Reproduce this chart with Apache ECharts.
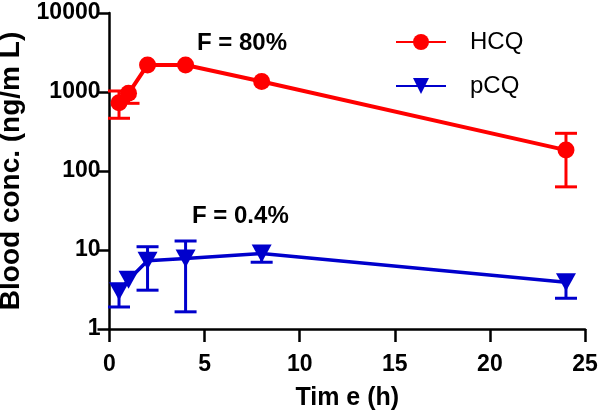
<!DOCTYPE html>
<html>
<head>
<meta charset="utf-8">
<script src="https://cdn.jsdelivr.net/npm/echarts@6/dist/echarts.min.js"></script>
<style>html,body{margin:0;padding:0;background:#fff}#c{width:600px;height:411px}</style>
</head>
<body>
<div id="c"></div>
<script>
const times = [0.5, 1, 2, 4, 8, 24];
const hcqMean = [732, 963, 2200, 2200, 1360, 184];
const hcqLow  = [465, 719, 2200, 2200, 1360, 63];
const hcqHigh = [1030, 963, 2200, 2200, 1360, 300];
const pcqMean = [3.0, 4.2, 7.3, 7.8, 9.0, 3.9];
const pcqLow  = [1.9, 4.2, 3.1, 1.65, 7.0, 2.45];
const pcqHigh = [3.0, 4.2, 11, 13, 9.0, 3.9];
const xTicks = [0, 5, 10, 15, 20, 25];
const yTicks = [1, 10, 100, 1000, 10000];
const annotations = [
  {text: 'F = 80%', left: 197, top: 31},
  {text: 'F = 0.4%', left: 192, top: 204}
];

const FONT = 'Liberation Sans, Arial, sans-serif';
const RED = '#FF0000', BLUE = '#0000CC';

function errRender(color) {
  return function (params, api) {
    const x = api.value(0), lo = api.value(1), hi = api.value(2);
    const mean = api.value(3);
    const m = api.coord([x, mean]);
    const half = 11;
    const st = {stroke: color, lineWidth: 3};
    const kids = [];
    [lo, hi].forEach(v => {
      if (v === mean) return;
      const p = api.coord([x, v]);
      kids.push({type: 'line', shape: {x1: m[0], y1: m[1], x2: p[0], y2: p[1]}, style: st});
      kids.push({type: 'line', shape: {x1: p[0] - half, y1: p[1], x2: p[0] + half, y2: p[1]}, style: st});
    });
    return {type: 'group', children: kids};
  };
}

const chart = echarts.init(document.getElementById('c'), null, {renderer: 'canvas'});
chart.setOption({
  animation: false,
  backgroundColor: '#fff',
  textStyle: {fontFamily: FONT},
  grid: {left: 109.5, right: 15, top: 13, bottom: 82, containLabel: false, outerBoundsMode: 'none'},
  legend: {
    orient: 'vertical', left: 390, top: 25,
    itemWidth: 50, itemHeight: 20, itemGap: 20,
    data: ['HCQ', 'pCQ'],
    textStyle: {fontFamily: FONT, fontSize: 24, color: '#000', padding: [0, 0, 0, 19]}
  },
  xAxis: {
    type: 'value', min: xTicks[0], max: xTicks[xTicks.length - 1], interval: 5,
    name: 'Tim e (h)', nameLocation: 'middle', nameGap: 57,
    nameTextStyle: {fontFamily: FONT, fontSize: 25, fontWeight: 'bold', color: '#000'},
    axisLine: {onZero: false, lineStyle: {color: '#000', width: 2.5}},
    axisTick: {length: 13, lineStyle: {color: '#000', width: 2.5}},
    axisLabel: {margin: 24, fontFamily: FONT, fontSize: 23, fontWeight: 'bold', color: '#000'},
    splitLine: {show: false}
  },
  yAxis: {
    type: 'log', logBase: 10, min: yTicks[0], max: yTicks[yTicks.length - 1],
    name: 'Blood conc. (ng/m L)', nameLocation: 'middle', nameGap: 82,
    nameTextStyle: {fontFamily: FONT, fontSize: 28, fontWeight: 'bold', color: '#000'},
    axisLine: {onZero: false, lineStyle: {color: '#000', width: 2.5}},
    axisTick: {length: 12, lineStyle: {color: '#000', width: 2.5}},
    axisLabel: {margin: 9, fontFamily: FONT, fontSize: 23, fontWeight: 'bold', color: '#000',
      formatter: v => String(v)},
    splitLine: {show: false},
    minorTick: {show: false}
  },
  graphic: annotations.map(a => ({
    type: 'text', left: a.left, top: a.top,
    style: {text: a.text, fontFamily: FONT, fontSize: 24, fontWeight: 'bold', fill: '#000'}
  })),
  series: [
    {
      type: 'custom', name: 'hcqErr', renderItem: errRender(RED), clip: false, z: 1,
      encode: {x: 0, y: [1, 2]},
      data: times.map((t, i) => [t, hcqLow[i], hcqHigh[i], hcqMean[i]])
    },
    {
      type: 'custom', name: 'pcqErr', renderItem: errRender(BLUE), clip: false, z: 1,
      encode: {x: 0, y: [1, 2]},
      data: times.map((t, i) => [t, pcqLow[i], pcqHigh[i], pcqMean[i]])
    },
    {
      type: 'line', name: 'HCQ', z: 3,
      data: times.map((t, i) => [t, hcqMean[i]]),
      symbol: 'circle', symbolSize: 17,
      itemStyle: {color: RED},
      lineStyle: {color: RED, width: 4}
    },
    {
      type: 'line', name: 'pCQ', z: 3,
      data: times.map((t, i) => [t, pcqMean[i]]),
      symbol: 'triangle', symbolRotate: 180, symbolSize: [20, 18],
      itemStyle: {color: BLUE},
      lineStyle: {color: BLUE, width: 3.5}
    }
  ]
});
</script>
</body>
</html>
